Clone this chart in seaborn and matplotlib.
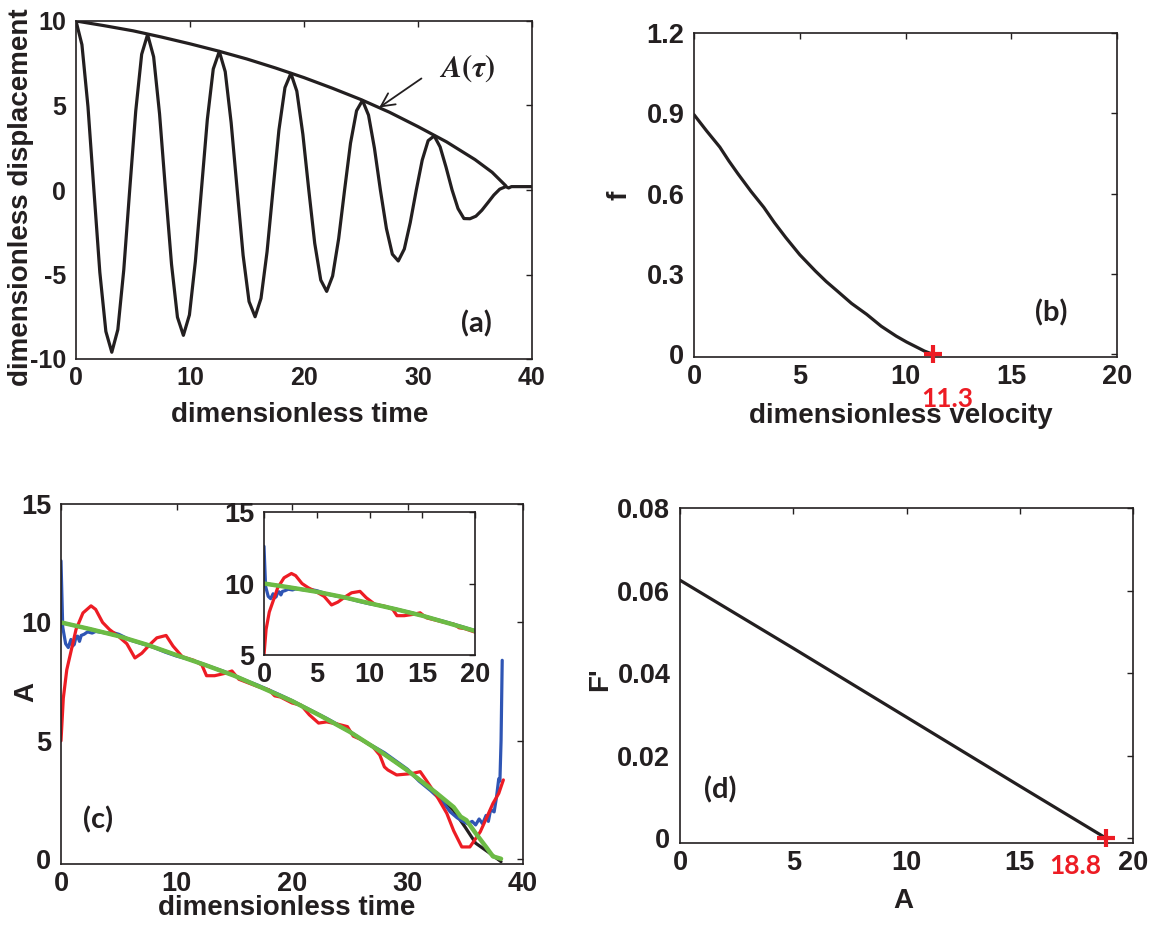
import matplotlib
matplotlib.use('Agg')
import matplotlib.pyplot as plt
import seaborn as sns

# (a) displacement vs time and its envelope A(tau)
t_a = [0.00, 0.52, 1.05, 1.57, 2.09, 2.62, 3.14, 3.67, 4.19, 4.71, 5.24, 5.76, 6.28,
       6.81, 7.33, 7.85, 8.38, 8.90, 9.42, 9.95, 10.47, 11.00, 11.52, 12.04, 12.57,
       13.09, 13.61, 14.14, 14.66, 15.18, 15.71, 16.23, 16.76, 17.28, 17.80, 18.33, 18.85,
       19.37, 19.90, 20.42, 20.94, 21.47, 21.99, 22.51, 23.04, 23.56, 24.08, 24.61, 25.13,
       25.66, 26.18, 26.70, 27.23, 27.75, 28.27, 28.80, 29.32, 29.85, 30.37, 30.89, 31.42,
       31.94, 32.46, 32.99, 33.51, 34.03, 34.56, 35.08, 35.60, 36.13, 36.65, 37.17, 37.70,
       37.95, 38.20, 40.00]
x_a = [10.00, 8.60, 4.93, 0.00, -4.87, -8.37, -9.60, -8.26, -4.73, 0.00, 4.67, 8.03, 9.20,
       7.88, 4.50, 0.00, -4.40, -7.53, -8.60, -7.39, -4.23, 0.00, 4.17, 7.16, 8.20,
       7.00, 3.98, 0.00, -3.87, -6.60, -7.50, -6.41, -3.65, 0.00, 3.55, 6.06, 6.90,
       5.85, 3.30, 0.00, -3.15, -5.33, -6.00, -5.09, -2.88, 0.00, 2.77, 4.69, 5.30,
       4.43, 2.47, 0.00, -2.28, -3.80, -4.20, -3.49, -1.93, 0.00, 1.77, 2.92, 3.20,
       2.55, 1.35, 0.00, -1.10, -1.69, -1.70, -1.55, -1.20, -0.75, -0.30, 0.05, 0.20,
       0.12, 0.20, 0.20]
env_t = [0, 2.5, 5, 7.5, 10, 12.5, 15, 17.5, 20, 22.5, 25, 27.5, 30, 32.5, 35, 36.5, 37.7]
env_a = [10, 9.72, 9.42, 9.05, 8.65, 8.22, 7.75, 7.22, 6.65, 6.02, 5.35, 4.6, 3.75, 2.85, 1.8, 1.05, 0.25]

# (b) f vs dimensionless velocity
v_b = [0, 0.6, 1.22, 1.65, 2.08, 2.7, 3.30, 3.8, 4.34, 5.0, 5.74, 6.25, 6.78, 7.45,
       8.17, 8.85, 9.56, 10.05, 10.5, 10.9, 11.3]
f_b = [0.895, 0.834, 0.774, 0.722, 0.674, 0.608, 0.549, 0.492, 0.436, 0.372, 0.311, 0.272,
       0.236, 0.190, 0.149, 0.105, 0.068, 0.046, 0.028, 0.012, 0.0]
v_zero = 11.3

# (c) amplitude A vs time: exact (black), two estimates (blue, red), smooth fit (green)
t_black = [0, 2.5, 5, 7.5, 10, 12.5, 15, 17.5, 20, 22.5, 25, 27.5, 30, 32.5, 34, 35, 35.9, 37, 38.1]
A_black = [10, 9.72, 9.42, 9.05, 8.62, 8.2, 7.75, 7.22, 6.68, 6.05, 5.38, 4.6, 3.75, 2.8, 2.05, 1.35, 0.68, 0.3, -0.1]
t_green = [0, 2.5, 5, 7.5, 10, 12.5, 15, 17.5, 20, 22.5, 25, 27.5, 30, 32.5, 34, 34.6, 35.1, 35.9, 36.8, 37.4, 38.1]
A_green = [10, 9.72, 9.42, 9.05, 8.62, 8.2, 7.75, 7.22, 6.68, 6.05, 5.38, 4.6, 3.75, 2.8, 2.2, 1.8, 1.65, 1.1, 0.52, 0.12, 0.02]
t_blue = [0, 0.15, 0.4, 0.63, 0.86, 1.0, 1.15, 1.3, 1.44, 1.6, 1.75, 2.0, 2.3, 2.7, 3.0, 3.5,
          4.0, 4.5, 5.0, 5.5, 6, 7, 8, 9, 10, 11, 12, 13, 14, 15, 16, 17, 18, 19, 20, 21, 22,
          23, 24, 25, 26, 27, 28, 29, 30, 31, 32, 33, 33.7, 34.3, 34.8, 35.2, 35.6, 35.9, 36.2,
          36.5, 36.8, 37.0, 37.2, 37.5, 37.7, 37.9, 38.0, 38.1, 38.2]
A_blue = [12.6, 9.8, 9.1, 8.94, 9.28, 9.0, 9.07, 9.4, 9.42, 9.2, 9.45, 9.5, 9.6, 9.55, 9.62, 9.58,
          9.55, 9.57, 9.5, 9.38, 9.25, 9.1, 8.95, 8.75, 8.58, 8.45, 8.3, 8.12, 7.95, 7.76, 7.55,
          7.36, 7.15, 6.93, 6.7, 6.45, 6.2, 5.95, 5.68, 5.4, 5.05, 4.78, 4.5, 4.15, 3.8, 3.3, 2.9,
          2.45, 2.0, 1.75, 1.6, 1.5, 1.6, 1.45, 1.7, 1.5, 1.85, 1.6, 2.1, 2.0, 2.6, 3.4, 3.3, 5.0, 8.4]
t_red = [0, 0.2, 0.5, 0.9, 1.3, 1.9, 2.6, 3.0, 3.6, 4.2, 5.0, 5.7, 6.4, 7.0, 7.7, 8.3, 9.1, 9.7,
         10.5, 11.5, 12.2, 12.6, 13.3, 14.2, 14.8, 15.4, 16.2, 17.0, 18.0, 18.5, 19.0, 20.0, 20.8,
         21.5, 22.3, 23.0, 24.0, 24.8, 25.3, 26.0, 27.0, 27.6, 28.0, 28.3, 29.06, 30.0, 30.5,
         31.1, 31.6, 32.5, 33.4, 34.0, 34.7, 35.4, 35.8, 36.3, 36.8, 37.4, 37.9, 38.3]
A_red = [5.0, 6.8, 8.0, 8.85, 9.7, 10.4, 10.7, 10.55, 10.0, 9.7, 9.4, 9.1, 8.5, 8.7, 9.07, 9.35,
         9.45, 9.0, 8.55, 8.4, 8.2, 7.75, 7.75, 7.85, 7.95, 7.6, 7.45, 7.3, 7.15, 6.9, 6.85, 6.6,
         6.5, 6.1, 5.75, 5.8, 5.7, 5.6, 5.2, 5.05, 4.75, 4.4, 3.9, 3.77, 3.56, 3.6, 3.63, 3.7,
         3.35, 2.7, 1.94, 1.2, 0.52, 0.52, 0.8, 1.16, 1.7, 2.36, 2.78, 3.35]

# (d) F' vs A
A_d = [0, 5, 10, 15, 18.8]
F_d = [0.0625, 0.046, 0.0293, 0.0126, 0.0]
A_zero = 18.8

# tick values and labels
xt_a, yt_a = [0, 10, 20, 30, 40], [-10, -5, 0, 5, 10]
yl_a = ['-10', '-5', '0', '5', '10']
xt_b, yt_b = [0, 5, 10, 15, 20], [0, 0.3, 0.6, 0.9, 1.2]
yl_b = ['0', '0.3', '0.6', '0.9', '1.2']
xt_c, yt_c = [0, 10, 20, 30, 40], [0, 5, 10, 15]
xt_in, yt_in = [0, 5, 10, 15, 20], [5, 10, 15]
xt_d, yt_d = [0, 5, 10, 15, 20], [0, 0.02, 0.04, 0.06, 0.08]
yl_d = ['0', '0.02', '0.04', '0.06', '0.08']

sns.set_style('white')
plt.rcParams['font.family'] = ['Liberation Sans', 'DejaVu Sans']
plt.rcParams['font.weight'] = 'bold'
plt.rcParams['axes.labelweight'] = 'bold'
plt.rcParams['axes.unicode_minus'] = False
plt.rcParams['mathtext.fontset'] = 'stix'

INK = '#231f20'
RED = '#ed1c24'
BLUE = '#2f55b4'
GREEN = '#6cbb45'

W, H = 1158, 925
fig = plt.figure(figsize=(W / 100, H / 100), dpi=100)


def box(l, t, r, b):
    return [l / W, 1 - b / H, (r - l) / W, (b - t) / H]


def style(ax, xt, yt, xl=None, yl=None, size=19.5):
    ax.set_xticks(xt)
    ax.set_yticks(yt)
    ax.set_xticklabels(xl if xl else [str(v) for v in xt])
    ax.set_yticklabels(yl if yl else [str(v) for v in yt])
    ax.tick_params(direction='in', top=True, right=True, length=4, width=1,
                   labelsize=size, colors=INK)
    ax.tick_params(axis='x', pad=5)
    ax.tick_params(axis='y', pad=7)
    for s in ax.spines.values():
        s.set_linewidth(1.2)
        s.set_color(INK)
    ax.set_xlabel('')
    ax.set_ylabel('')


def labels(ax, xlab, xpos, ylab, ypos):
    ax.set_xlabel(xlab, fontsize=20, fontweight='bold', color=INK, va='center')
    ax.xaxis.set_label_coords(*xpos)
    ax.set_ylabel(ylab, fontsize=20, fontweight='bold', color=INK, va='center')
    ax.yaxis.set_label_coords(*ypos)


def tag(ax, x, y, s, color=INK, size=21):
    ax.text(x, y, s, fontsize=size, family='Lato', fontweight='bold', color=color,
            ha='center', va='center', clip_on=False)


# ---- (a)
ax1 = fig.add_axes(box(76, 21, 532, 359))
sns.lineplot(x=t_a, y=x_a, ax=ax1, color=INK, lw=2.3, sort=False, estimator=None)
sns.lineplot(x=env_t, y=env_a, ax=ax1, color=INK, lw=2.3, sort=False, estimator=None)
ax1.set_xlim(0, 40)
ax1.set_ylim(-10, 10)
style(ax1, xt_a, yt_a, yl=yl_a, size=18)
labels(ax1, 'dimensionless time', (0.49, -0.166), 'dimensionless displacement', (-0.12, 0.48))
ax1.annotate('', xy=(26.6, 4.88), xytext=(30.3, 6.6),
             arrowprops=dict(arrowstyle='->', color=INK, lw=1.3, mutation_scale=24,
                             shrinkA=0, shrinkB=0))
ax1.text(31.8, 6.3, r'$A(\tau)$', fontsize=22, fontweight='normal', color=INK,
         ha='left', va='bottom')
tag(ax1, 35.1, -7.94, '(a)')

# ---- (b)
ax2 = fig.add_axes(box(694, 33, 1117, 357))
sns.lineplot(x=v_b, y=f_b, ax=ax2, color=INK, lw=2.3, sort=False, estimator=None)
ax2.plot([v_zero], [0], '+', color=RED, ms=13, mew=3, clip_on=False, zorder=5)
ax2.set_xlim(0, 20)
ax2.set_ylim(-0.01, 1.2)
style(ax2, xt_b, yt_b, yl=yl_b)
labels(ax2, 'dimensionless velocity', (0.49, -0.182), 'f', (-0.176, 0.5))
tag(ax2, 11.96, -0.165, str(v_zero), color=RED, size=19)
tag(ax2, 16.9, 0.154, '(b)')

# ---- (c)
ax3 = fig.add_axes(box(61, 504, 523, 864))
axin = fig.add_axes(box(264, 512, 475, 655))
for ax in (ax3, axin):
    sns.lineplot(x=t_black, y=A_black, ax=ax, color=INK, lw=2.3, sort=False, estimator=None)
    sns.lineplot(x=t_blue, y=A_blue, ax=ax, color=BLUE, lw=2.3, sort=False, estimator=None)
    sns.lineplot(x=t_red, y=A_red, ax=ax, color=RED, lw=2.3, sort=False, estimator=None)
    sns.lineplot(x=t_green, y=A_green, ax=ax, color=GREEN, lw=3.2, sort=False, estimator=None)
ax3.set_xlim(0, 40)
ax3.set_ylim(-0.2, 15)
style(ax3, xt_c, yt_c)
labels(ax3, 'dimensionless time', (0.489, -0.122), 'A', (-0.074, 0.478))
tag(ax3, 3.2, 1.65, '(c)')
axin.set_facecolor('white')
axin.set_xlim(0, 20)
axin.set_ylim(5, 15)
style(axin, xt_in, yt_in)

# ---- (d)
ax4 = fig.add_axes(box(680, 508, 1133, 843))
sns.lineplot(x=A_d, y=F_d, ax=ax4, color=INK, lw=2.3, sort=False, estimator=None)
ax4.plot([A_zero], [0], '+', color=RED, ms=13, mew=3, clip_on=False, zorder=5)
ax4.set_xlim(0, 20)
ax4.set_ylim(-0.0012, 0.08)
style(ax4, xt_d, yt_d, yl=yl_d)
labels(ax4, 'A', (0.493, -0.173), "F'", (-0.177, 0.49))
tag(ax4, 17.44, -0.0068, str(A_zero), color=RED, size=19)
tag(ax4, 1.77, 0.0116, '(d)')

fig.savefig('out.png', dpi=100)
